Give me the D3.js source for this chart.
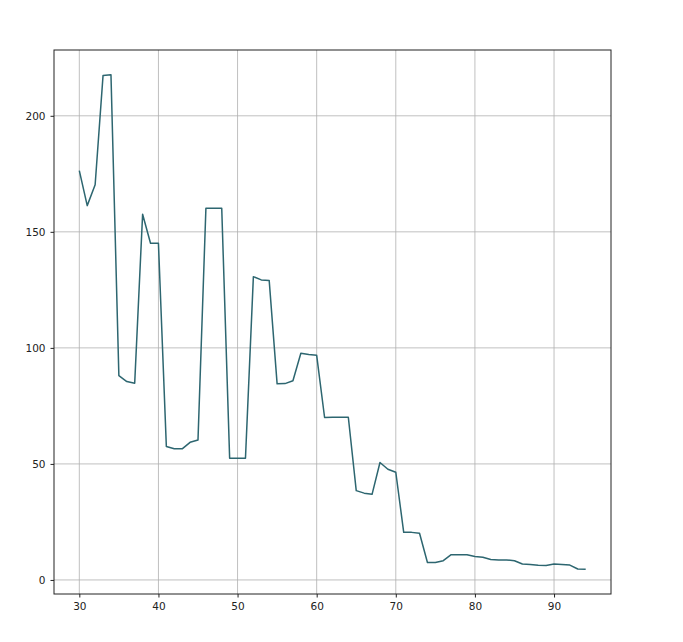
<!DOCTYPE html>
<html><head><meta charset="utf-8">
<script src="https://cdn.jsdelivr.net/npm/d3@7"></script>
<style>body{margin:0;background:#fff;} svg{display:block;}</style>
</head><body>
<svg id="c" width="683" height="642"></svg>
<script>
const xStart = 30;
const values = [176.4,161.3,170.3,217.4,217.7,88.0,85.5,84.8,157.6,145.1,145.1,57.5,56.5,56.5,59.3,60.3,160.2,160.2,160.2,52.4,52.4,52.4,130.7,129.3,129.0,84.5,84.6,85.8,97.7,97.1,96.8,70.0,70.1,70.1,70.1,38.5,37.4,36.9,50.6,47.7,46.4,20.5,20.5,20.1,7.5,7.5,8.3,10.9,10.9,10.9,10.1,9.8,8.8,8.6,8.6,8.3,6.9,6.7,6.3,6.2,6.9,6.7,6.4,4.7,4.6];
const xTicks = [30,40,50,60,70,80,90];
const yTicks = [0,50,100,150,200];

const data = values.map((v,i)=>({x:xStart+i,y:v}));
const svg = d3.select("#c");
const L=54,R=611,T=50,B=594;
const xMin=d3.min(data,d=>d.x), xMax=d3.max(data,d=>d.x);
const yMin=d3.min(values), yMax=d3.max(values);
const xm=(xMax-xMin)*0.05, ym=(yMax-yMin)*0.05;
const x=d3.scaleLinear().domain([xMin-xm,xMax+xm]).range([L,R]);
const y=d3.scaleLinear().domain([yMin-ym,yMax+ym]).range([B,T]);

const g=svg.append("g");
// grid
g.selectAll(".gx").data(xTicks).join("line")
 .attr("x1",d=>x(d)).attr("x2",d=>x(d)).attr("y1",T).attr("y2",B)
 .attr("stroke","#b0b0b0").attr("stroke-width",0.8);
g.selectAll(".gy").data(yTicks).join("line")
 .attr("y1",d=>y(d)).attr("y2",d=>y(d)).attr("x1",L).attr("x2",R)
 .attr("stroke","#b0b0b0").attr("stroke-width",0.8);

// line
svg.append("path").datum(data)
 .attr("d",d3.line().x(d=>x(d.x)).y(d=>y(d.y)))
 .attr("fill","none").attr("stroke","#2d6670").attr("stroke-width",1.5)
 .attr("stroke-linejoin","round");

// frame
svg.append("rect").attr("x",L).attr("y",T).attr("width",R-L).attr("height",B-T)
 .attr("fill","none").attr("stroke","#222").attr("stroke-width",1);

// axes
const xa=svg.append("g").attr("transform",`translate(0,${B})`)
 .call(d3.axisBottom(x).tickValues(xTicks).tickSize(3.5).tickPadding(5).tickFormat(d3.format("d")));
const ya=svg.append("g").attr("transform",`translate(${L},0)`)
 .call(d3.axisLeft(y).tickValues(yTicks).tickSize(3.5).tickPadding(5).tickFormat(d3.format("d")));
[xa,ya].forEach(a=>{
 a.select(".domain").remove();
 a.selectAll("line").attr("stroke","#222");
 a.selectAll("text").attr("font-family","DejaVu Sans, sans-serif").attr("font-size",10.5).attr("fill","#222");
});
</script>
</body></html>
